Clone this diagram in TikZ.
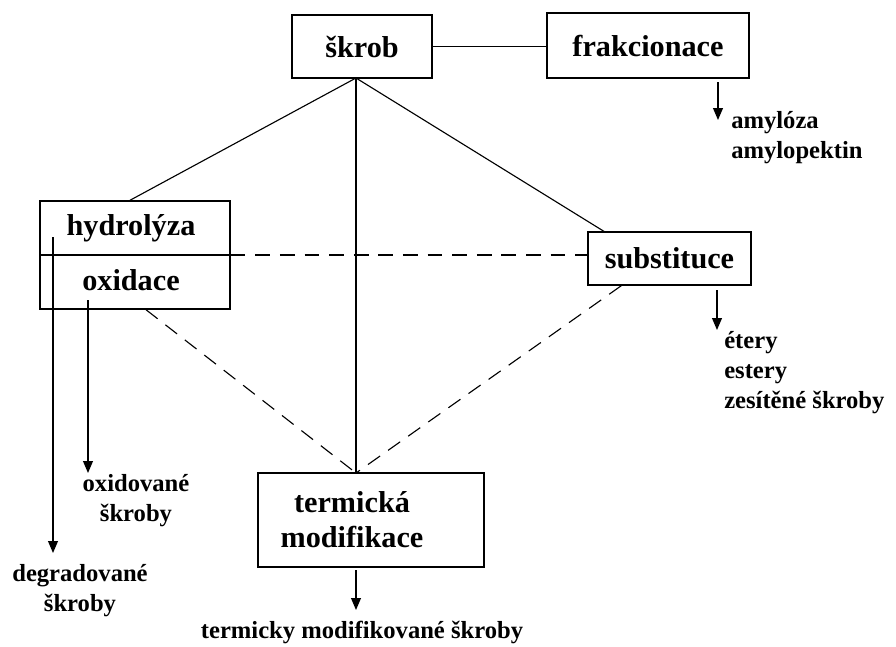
\documentclass[tikz,border=0pt]{standalone}
\usepackage{fontspec}
\setmainfont{Liberation Serif}
\usetikzlibrary{arrows.meta, calc}

\tikzset{
  box/.style={draw, line width=1pt, inner sep=0pt},
  boxtext/.style={font=\bfseries\fontsize{21.5}{25}\selectfont, align=center, inner sep=0pt},
  outtext/.style={font=\bfseries\fontsize{17.5}{21.3}\selectfont, inner sep=0pt},
  link/.style={line width=0.8pt},
  dlink/.style={line width=0.8pt, dash pattern=on 10.5pt off 7pt},
  product/.style={line width=1pt, -{Triangle[width=7pt, length=8.5pt]}},
}

\begin{document}
\begin{tikzpicture}[x=0.025cm, y=-0.025cm]
    \useasboundingbox (0, 0) rectangle (896, 646);

    % draw boxes
    \node[box, boxtext, minimum width=3.5cm, minimum height=1.575cm] (skrob) at (362, 46.5) {škrob};
    \node[box, boxtext, minimum width=5.05cm, minimum height=1.625cm] (frak) at (648, 45.5) {frakcionace};
    \node[box, minimum width=4.75cm, minimum height=2.7cm] (hydro) at (135, 255) {};
    \node[boxtext] (hydrotext) at (131, 228) {hydrolýza};
    \node[boxtext] (oxtext) at (131, 280) {oxidace};
    \node[box, boxtext, minimum width=4.075cm, minimum height=1.325cm] (subst) at (669.5, 258.5) {substituce};
    \node[box, minimum width=5.65cm, minimum height=2.35cm] (term) at (371, 520) {};
    \node[boxtext] (termtext) at (352, 520) {termická\\modifikace};

    % divider of the hydrolyza / oxidace box
    \draw[link] (hydro.west) -- (hydro.east);

    % draw solid links from skrob
    \coordinate (apex) at (356, 78);
    \coordinate (termtop) at (356, 473);
    \coordinate (substop) at (605, 232);
    \draw[link] (skrob.east) -- (skrob.east -| frak.west);
    \draw[link] (apex) -- ($(hydro.north)+(-5, 0)$);
    \draw[link] (apex) -- (termtop);
    \draw[link] (apex) -- (substop);

    % draw dashed links
    \draw[dlink] ($(frak.south)+(15, 0)$) -- ($(frak.south)+(15, 0)$ |- subst.north);
    \draw[dlink] (hydro.east) -- (hydro.east -| subst.west);
    \draw[dlink] ($(hydro.south)+(11, 0)$) -- (termtop);
    \draw[dlink] ($(subst.south west)+(34, 0)$) -- (termtop);

    % draw product arrows
    \coordinate (frakout) at (718, 82);
    \coordinate (frakend) at (718, 120);
    \draw[product] (frakout) -- (frakend);
    \node[outtext, anchor=west, align=left] (fraklist) at (731, 138) {amylóza\\amylopektin};

    \coordinate (substout) at (717, 290);
    \coordinate (substend) at (717, 330);
    \draw[product] (substout) -- (substend);
    \node[outtext, anchor=west, align=left] (substlist) at (724, 373) {étery\\estery\\zesítěné škroby};

    \coordinate (hydroout) at (53, 237);
    \coordinate (hydroend) at (53, 553);
    \draw[product] (hydroout) -- (hydroend);
    \node[outtext, align=center] (degrad) at (80, 591) {degradované\\škroby};

    \coordinate (oxout) at (88, 300);
    \coordinate (oxend) at (88, 473);
    \draw[product] (oxout) -- (oxend);
    \node[outtext, align=center] (oxid) at (136, 501) {oxidované\\škroby};

    \coordinate (termout) at (356, 570);
    \coordinate (termend) at (356, 610);
    \draw[product] (termout) -- (termend);
    \node[outtext] (termprod) at (362, 632) {termicky modifikované škroby};

\end{tikzpicture}
\end{document}
